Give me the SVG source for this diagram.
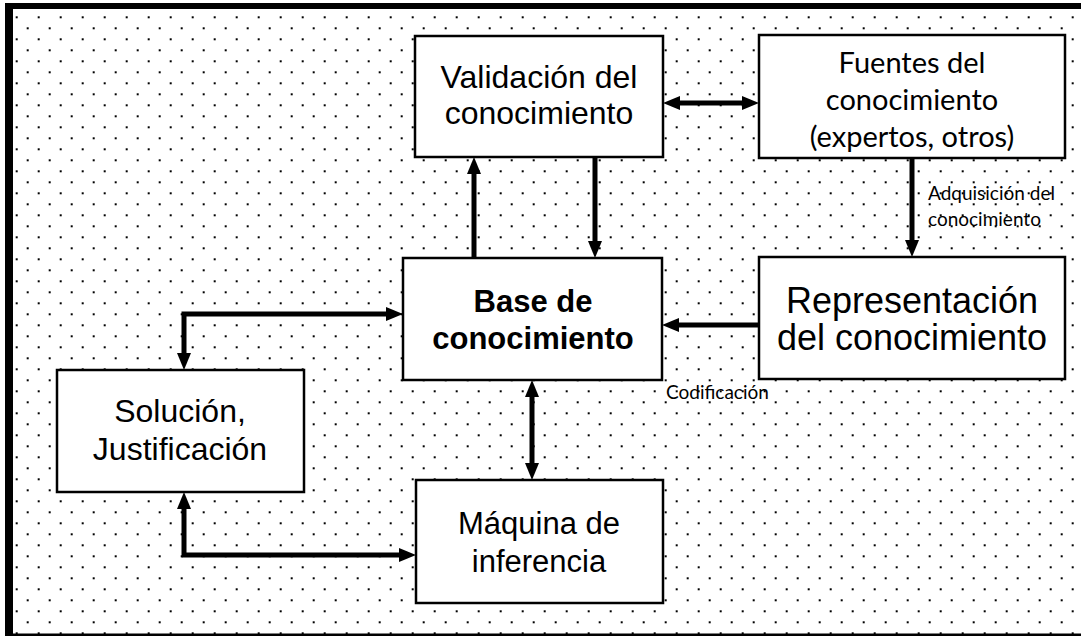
<svg xmlns="http://www.w3.org/2000/svg" width="1081" height="636" viewBox="0 0 1081 636">
  <defs>
    <pattern id="dots" x="15.7" y="16.3" width="22" height="22" patternUnits="userSpaceOnUse">
      <rect x="0" y="0" width="2" height="2" fill="#000"/>
      <rect x="11" y="11" width="2" height="2" fill="#000"/>
    </pattern>
    <marker id="ah" viewBox="0 0 17 14" refX="7" refY="7" markerWidth="17" markerHeight="14" markerUnits="userSpaceOnUse" orient="auto-start-reverse">
      <path d="M0,0 L17,7 L0,14 z" fill="#000"/>
    </marker>
  </defs>
  <style>
    .box { fill: #fff; stroke: #000; stroke-width: 2.5; }
    .t { font-family: "Liberation Sans", Arial, sans-serif; fill: #000; text-anchor: middle; }
    .c { font-family: Lato, "Open Sans", sans-serif; fill: #000; }
    .ln { fill: none; stroke: #000; stroke-width: 5; stroke-linejoin: miter; }
  </style>
  <rect x="0" y="0" width="1081" height="636" fill="#fff"/>
  <rect x="13" y="9" width="1068" height="625" fill="url(#dots)"/>
  <g id="frame">
    <rect x="5" y="3" width="1076" height="6" fill="#000"/>
    <rect x="5" y="3" width="8" height="633" fill="#000"/>
    <rect x="5" y="633.5" width="1076" height="2.5" fill="#000"/>
  </g>

  <g id="validacion">
    <rect class="box" x="415" y="36" width="248" height="121"/>
    <text class="t" x="539" y="88" font-size="32">Validación del</text>
    <text class="t" x="539" y="124" font-size="32">conocimiento</text>
  </g>
  <g id="fuentes">
    <rect class="box" x="759" y="35" width="306" height="123"/>
    <text class="c" x="912" y="73" font-size="29" text-anchor="middle">Fuentes del</text>
    <text class="c" x="912" y="110" font-size="29" text-anchor="middle">conocimiento</text>
    <text class="c" x="912" y="147" font-size="29" text-anchor="middle">(expertos, otros)</text>
  </g>
  <g id="base">
    <rect class="box" x="403" y="258" width="259" height="122"/>
    <text class="t" x="533" y="312" font-size="31" font-weight="bold">Base de</text>
    <text class="t" x="533" y="349" font-size="31" font-weight="bold">conocimiento</text>
  </g>
  <g id="representacion">
    <rect class="box" x="759" y="257" width="306" height="122"/>
    <text class="t" x="912" y="313" font-size="36">Representación</text>
    <text class="t" x="912" y="350" font-size="36">del conocimiento</text>
  </g>
  <g id="solucion">
    <rect class="box" x="57" y="370" width="247" height="122"/>
    <text class="t" x="180" y="422" font-size="32">Solución,</text>
    <text class="t" x="180" y="460" font-size="32">Justificación</text>
  </g>
  <g id="maquina">
    <rect class="box" x="416" y="480" width="247" height="123"/>
    <text class="t" x="539" y="534" font-size="31">Máquina de</text>
    <text class="t" x="539" y="572" font-size="31">inferencia</text>
  </g>

  <g id="connectors">
    <path class="ln" d="M673,103 L749,103" marker-start="url(#ah)" marker-end="url(#ah)"/>
    <path class="ln" d="M595,157 L595,248" marker-end="url(#ah)"/>
    <path class="ln" d="M474,258 L474,167" marker-end="url(#ah)"/>
    <path class="ln" d="M912,158 L912,247" marker-end="url(#ah)"/>
    <path class="ln" d="M759,325 L672,325" marker-end="url(#ah)"/>
    <path class="ln" d="M184,360 L184,314 L393,314" marker-start="url(#ah)" marker-end="url(#ah)"/>
    <path class="ln" d="M532,390 L532,470" marker-start="url(#ah)" marker-end="url(#ah)"/>
    <path class="ln" d="M184,502 L184,555 L406,555" marker-start="url(#ah)" marker-end="url(#ah)"/>
    <text class="c" x="928" y="200" font-size="19">Adquisición del</text>
    <text class="c" x="928" y="226" font-size="19">conocimiento</text>
    <text class="c" x="666" y="399" font-size="19">Codificación</text>
  </g>
</svg>
